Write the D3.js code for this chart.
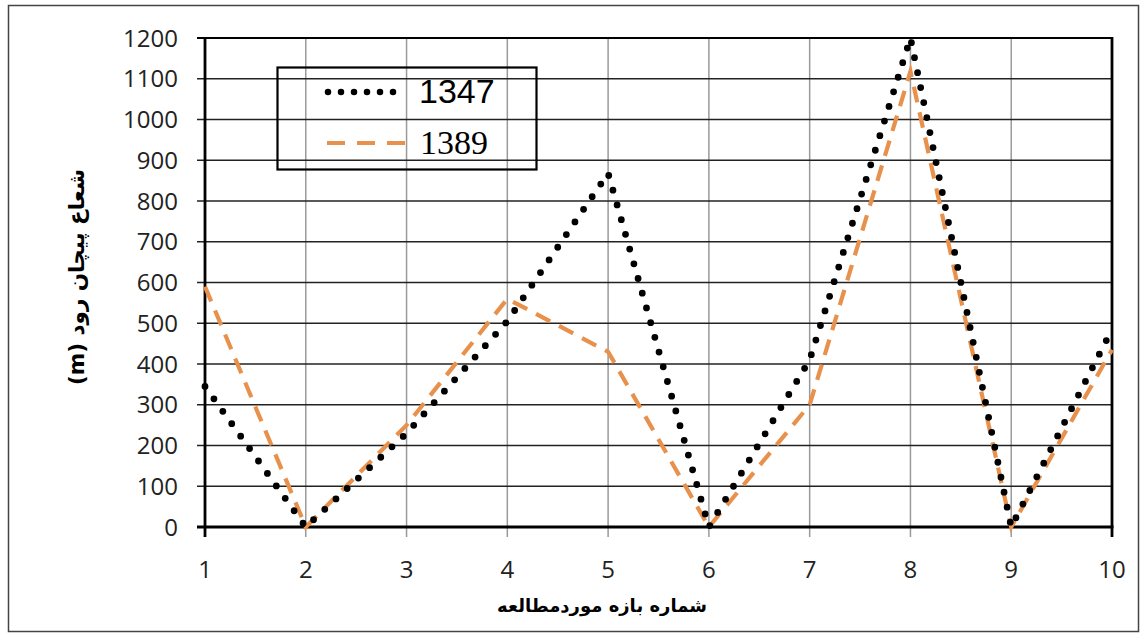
<!DOCTYPE html>
<html>
<head>
<meta charset="utf-8">
<script src="https://cdn.jsdelivr.net/npm/d3@7"></script>
<style>
    body { margin: 0; background: #fff; }
    svg { display: block; }
</style>
</head>
<body>
<div id="chart"></div>
<script>
// Chart data
// --------------------------------------------------------------------------------------------
const reachNumbers = [1, 2, 3, 4, 5, 6, 7, 8, 9, 10]
const radius1347 = [345, 0, 230, 505, 868, 0, 410, 1200, 0, 485]
const radius1389 = [590, 0, 250, 560, 430, 0, 300, 1118, 0, 435]
const yTicks = [0, 100, 200, 300, 400, 500, 600, 700, 800, 900, 1000, 1100, 1200]
const seriesNames = ["1347", "1389"]
const xTitle = "شماره بازه موردمطالعه"
const yTitle = "(m)  شعاع پیچان رود"

function drawChart(container) {
    const width = 1140, height = 633
    const orange = "#E8914D"

    let svg = d3.select(container).append("svg")
        .attr("width", width)
        .attr("height", height)

    // outer chart frame
    svg.append("rect")
        .attr("x", 8.5).attr("y", 5.5)
        .attr("width", 1130).attr("height", 626)
        .style("fill", "none")
        .style("stroke", "#444")
        .style("stroke-width", 1.5)

    // Scales
    let x = d3.scaleLinear().domain([1, 10]).range([205, 1112])
    let y = d3.scaleLinear().domain([0, 1200]).range([527, 38])

    // Grid lines
    let gGrid = svg.append("g").attr("id", "grid")
    gGrid.selectAll(".vgrid")
        .data(reachNumbers.slice(1, -1))
        .enter().append("line")
        .attr("class", "vgrid")
        .attr("x1", d => x(d)).attr("x2", d => x(d))
        .attr("y1", y(1200)).attr("y2", y(0) + 10)
        .style("stroke", "#9a9a9a")
        .style("stroke-width", 1.5)

    gGrid.selectAll(".hgrid")
        .data(yTicks.slice(1, -1))
        .enter().append("line")
        .attr("class", "hgrid")
        .attr("x1", x(1) - 8).attr("x2", x(10))
        .attr("y1", d => y(d)).attr("y2", d => y(d))
        .style("stroke", "#222")
        .style("stroke-width", 1.4)

    // Plot border (axes)
    svg.append("line")
        .attr("x1", x(1) - 8).attr("x2", x(10) + 1)
        .attr("y1", y(1200)).attr("y2", y(1200))
        .style("stroke", "#000").style("stroke-width", 2.2)
    svg.append("line")
        .attr("x1", x(1) - 8).attr("x2", x(10) + 1.5)
        .attr("y1", y(0)).attr("y2", y(0))
        .style("stroke", "#000").style("stroke-width", 3)
    svg.append("line")
        .attr("x1", x(1)).attr("x2", x(1))
        .attr("y1", y(1200) - 1).attr("y2", y(0) + 10)
        .style("stroke", "#000").style("stroke-width", 2.8)
    svg.append("line")
        .attr("x1", x(10)).attr("x2", x(10))
        .attr("y1", y(1200) - 1).attr("y2", y(0) + 10)
        .style("stroke", "#000").style("stroke-width", 2.8)

    // Tick labels
    svg.append("g").selectAll("text")
        .data(yTicks)
        .enter().append("text")
        .attr("x", 178)
        .attr("y", d => y(d) + 8.5)
        .attr("text-anchor", "end")
        .style("font-family", "'Open Sans', 'Liberation Sans', sans-serif")
        .style("font-size", "24px")
        .style("fill", "#222")
        .text(d => d)

    svg.append("g").selectAll("text")
        .data(reachNumbers)
        .enter().append("text")
        .attr("x", d => x(d))
        .attr("y", 578)
        .attr("text-anchor", "middle")
        .style("font-family", "'Open Sans', 'Liberation Sans', sans-serif")
        .style("font-size", "24px")
        .style("fill", "#222")
        .text(d => d)

    // Axis titles
    svg.append("text")
        .attr("x", 602)
        .attr("y", 612)
        .attr("text-anchor", "middle")
        .style("font-family", "'DejaVu Sans', sans-serif")
        .style("font-weight", "bold")
        .style("font-size", "18px")
        .text(xTitle)

    svg.append("text")
        .attr("transform", "translate(84,277) rotate(-90)")
        .attr("text-anchor", "middle")
        .style("font-family", "'DejaVu Sans', sans-serif")
        .style("font-weight", "bold")
        .style("font-size", "21.5px")
        .text(yTitle)

    // Series lines
    let line = d3.line()
        .x((d, i) => x(reachNumbers[i]))
        .y(d => y(d))

    svg.append("path")
        .datum(radius1389)
        .attr("d", line)
        .style("fill", "none")
        .style("stroke", orange)
        .style("stroke-width", 4.2)
        .style("stroke-dasharray", "16,10")

    svg.append("path")
        .datum(radius1347)
        .attr("d", line)
        .style("fill", "none")
        .style("stroke", "#000")
        .style("stroke-width", 6.8)
        .style("stroke-linecap", "round")
        .style("stroke-dasharray", "0,15.3")

    // Legend
    let gLegend = svg.append("g").attr("id", "legend")
    gLegend.append("rect")
        .attr("x", 277.5).attr("y", 67.5)
        .attr("width", 259).attr("height", 102)
        .style("fill", "none")
        .style("stroke", "#000")
        .style("stroke-width", 2.2)

    gLegend.append("line")
        .attr("x1", 328).attr("x2", 406)
        .attr("y1", 92).attr("y2", 92)
        .style("stroke", "#000")
        .style("stroke-width", 6.5)
        .style("stroke-linecap", "round")
        .style("stroke-dasharray", "0,13")
    gLegend.append("text")
        .attr("x", 419).attr("y", 103)
        .style("font-family", "'Liberation Sans', 'Open Sans', sans-serif")
        .style("font-size", "34px")
        .text(seriesNames[0])

    gLegend.append("line")
        .attr("x1", 327).attr("x2", 408)
        .attr("y1", 143).attr("y2", 143)
        .style("stroke", orange)
        .style("stroke-width", 4.2)
        .style("stroke-dasharray", "18,12")
    gLegend.append("text")
        .attr("x", 420).attr("y", 154)
        .style("font-family", "'Liberation Serif', serif")
        .style("font-size", "34px")
        .text(seriesNames[1])
}

drawChart("#chart")
</script>
</body>
</html>
